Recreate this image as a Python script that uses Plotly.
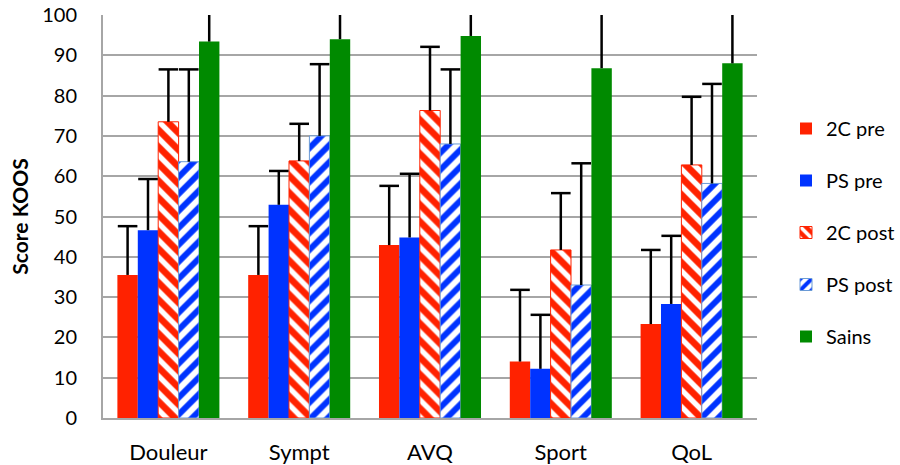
import plotly.graph_objects as go

categories = ["Douleur", "Sympt", "AVQ", "Sport", "QoL"]
series_names = ["2C pre", "PS pre", "2C post", "PS post", "Sains"]

c2_pre = [35.5, 35.5, 42.9, 14.0, 23.3]
c2_pre_top = [47.6, 47.6, 57.6, 31.8, 41.7]
ps_pre = [46.6, 52.9, 44.8, 12.2, 28.3]
ps_pre_top = [59.3, 61.3, 60.6, 25.6, 45.2]
c2_post = [73.5, 63.8, 76.3, 41.7, 62.8]
c2_post_top = [86.5, 73.0, 92.1, 55.8, 79.7]
ps_post = [63.6, 70.0, 68.0, 33.0, 58.2]
ps_post_top = [86.5, 87.8, 86.5, 63.2, 82.9]
sains = [93.4, 94.0, 94.8, 86.8, 88.0]
sains_top = [105, 105, 105, 105, 105]

y_ticks = list(range(0, 101, 10))

values = [c2_pre, ps_pre, c2_post, ps_post, sains]
tops = [c2_pre_top, ps_pre_top, c2_post_top, ps_post_top, sains_top]

styles = [
    dict(color="#FF2200", line=dict(color="#FF2200", width=0)),
    dict(color="#0033FF", line=dict(color="#0033FF", width=0)),
    dict(color="#FF2200", line=dict(color="#FF2200", width=1),
         pattern=dict(shape="\\", fgcolor="white", bgcolor="#FF2200", size=12,
                      solidity=0.45, fillmode="replace", fgopacity=1)),
    dict(color="white", line=dict(color="#6A9AD6", width=1),
         pattern=dict(shape="/", fgcolor="#0033FF", bgcolor="white", size=12,
                      solidity=0.5, fillmode="replace", fgopacity=1)),
    dict(color="#008A00", line=dict(color="#008A00", width=0)),
]

FONT = "Lato, Carlito, Liberation Sans, sans-serif"
BARGAP = 0.22

fig = go.Figure()
for i, name in enumerate(series_names):
    fig.add_trace(go.Bar(
        x=categories, y=values[i], name=name,
        marker=styles[i], legendgroup=name, offsetgroup=str(i),
    ))
for i, name in enumerate(series_names):
    err = [t - v for t, v in zip(tops[i], values[i])]
    fig.add_trace(go.Scatter(
        x=categories, y=tops[i], mode="markers", showlegend=False,
        offsetgroup=str(i), legendgroup=name, hoverinfo="skip",
        marker=dict(symbol="line-ew", size=14, color="black",
                    line=dict(color="black", width=2.5)),
        error_y=dict(type="data", symmetric=False, array=[0] * len(err),
                     arrayminus=err, color="black", thickness=2.5, width=0),
    ))

fig.update_layout(
    width=900, height=465,
    margin=dict(l=103, r=143, t=15, b=47),
    paper_bgcolor="white", plot_bgcolor="white",
    barmode="group", bargap=BARGAP, bargroupgap=0,
    scattermode="group", scattergap=BARGAP,
    font=dict(family=FONT, size=20, color="black"),
    legend=dict(xref="container", yref="container", x=1.0, y=0.50,
                xanchor="right", yanchor="middle", maxheight=440,
                font=dict(size=20), tracegroupgap=23,
                itemwidth=30, traceorder="grouped"),
    showlegend=True,
)
fig.update_yaxes(
    range=[0, 100], tickvals=y_ticks, showgrid=True, gridcolor="#A6A6A6", gridwidth=2,
    showline=True, linecolor="#A6A6A6", linewidth=2, zeroline=False,
    ticks="", ticklabelstandoff=20, automargin=False,
    title=dict(text="<b>Score KOOS</b>", font=dict(size=21), standoff=8),
    tickfont=dict(size=20),
)
fig.update_xaxes(
    showline=True, linecolor="#A6A6A6", linewidth=2, ticks="",
    ticklabelstandoff=14, tickfont=dict(size=22), automargin=False,
)

fig.write_html("out.html")
